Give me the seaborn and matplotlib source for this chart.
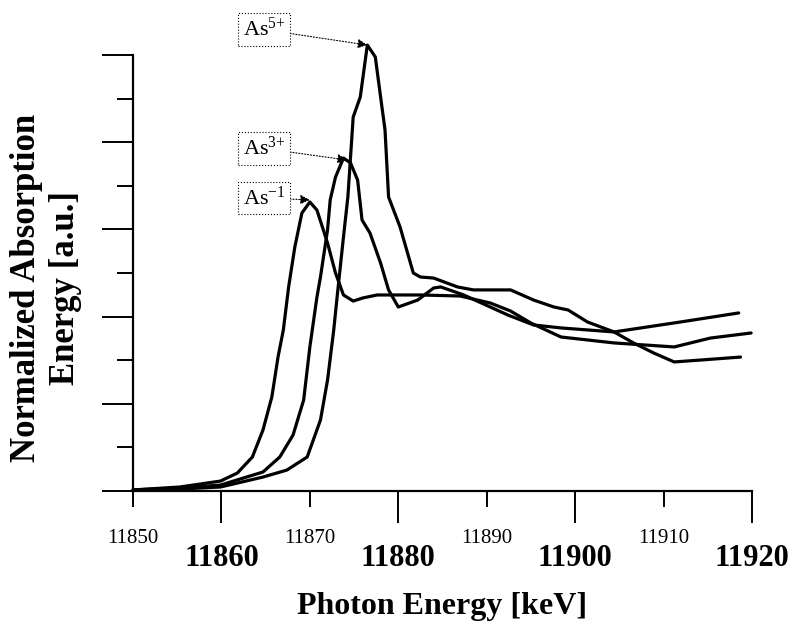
import numpy as np
import pandas as pd
import matplotlib
matplotlib.use("Agg")
import matplotlib.pyplot as plt
import seaborn as sns

# ---- data ----
as_m1_x = [11850.0, 11855.3, 11859.9, 11861.8, 11863.5, 11864.7, 11865.7, 11866.4, 11867.0, 11867.6,
           11868.3, 11869.1, 11870.0, 11870.8, 11872.0, 11872.9, 11873.8, 11874.9, 11876.0, 11877.6,
           11879.4, 11882.5, 11887.0, 11890.4, 11892.7, 11895.0, 11898.4, 11904.4, 11911.2, 11915.3, 11919.9]
as_m1_y = [0.006, 0.023, 0.057, 0.103, 0.195, 0.350, 0.539, 0.768, 0.923, 1.170,
           1.399, 1.594, 1.657, 1.611, 1.422, 1.250, 1.124, 1.089, 1.107, 1.124,
           1.124, 1.124, 1.118, 1.078, 1.032, 0.963, 0.883, 0.849, 0.826, 0.877, 0.906]

as_3_x = [11850.0, 11855.3, 11859.9, 11864.7, 11866.6, 11868.1, 11869.3, 11870.0, 11870.8, 11871.2,
          11872.0, 11872.3, 11872.9, 11873.8, 11874.6, 11875.4, 11875.9, 11876.8, 11878.0, 11878.9,
          11880.0, 11882.2, 11884.0, 11884.8, 11887.4, 11890.4, 11892.4, 11895.3, 11898.4, 11904.4,
          11911.9, 11918.5]
as_3_y = [0.006, 0.017, 0.034, 0.109, 0.195, 0.321, 0.522, 0.826, 1.112, 1.227,
          1.497, 1.669, 1.800, 1.909, 1.881, 1.783, 1.554, 1.479, 1.307, 1.153,
          1.055, 1.095, 1.164, 1.170, 1.124, 1.055, 1.009, 0.952, 0.935, 0.912,
          0.969, 1.021]

as_5_x = [11850.0, 11855.3, 11859.9, 11864.7, 11867.4, 11869.7, 11871.2, 11872.0, 11872.7, 11873.2,
          11873.8, 11874.3, 11874.9, 11875.7, 11876.5, 11877.4, 11878.0, 11878.5, 11878.9, 11880.2,
          11881.7, 11882.5, 11884.0, 11886.7, 11888.5, 11892.7, 11895.3, 11897.6, 11899.2, 11901.4,
          11904.4, 11906.6, 11908.9, 11911.2, 11914.2, 11918.7]
as_5_y = [0.006, 0.011, 0.023, 0.080, 0.120, 0.195, 0.407, 0.636, 0.923, 1.170,
          1.456, 1.686, 2.144, 2.259, 2.557, 2.489, 2.259, 2.070, 1.686, 1.514,
          1.250, 1.227, 1.221, 1.170, 1.153, 1.153, 1.095, 1.055, 1.038, 0.969,
          0.912, 0.849, 0.791, 0.740, 0.751, 0.768]

series_names = ["As-1", "As3+", "As5+"]
annot_labels = ["As$^{-1}$", "As$^{3{+}}$", "As$^{5{+}}$"]
annot_tips = [(11870.0, 1.669), (11874.2, 1.898), (11876.5, 2.557)]
annot_text_pos = [(11864.8, 1.680), (11864.8, 1.964), (11864.8, 2.646)]

major_x_ticks = [11860, 11880, 11900, 11920]
minor_x_ticks = [11850, 11870, 11890, 11910]
x_label = "Photon Energy [keV]"
y_label = "Normalized Absorption\nEnergy [a.u.]"

# ---- build long table ----
frames = []
for name, xs, ys in zip(series_names, [as_m1_x, as_3_x, as_5_x], [as_m1_y, as_3_y, as_5_y]):
    frames.append(pd.DataFrame({"energy": xs, "absorption": ys, "species": name}))
df = pd.concat(frames, ignore_index=True)

sns.set_theme(style="white")
plt.rcParams["font.family"] = ["Liberation Serif", "DejaVu Serif"]
plt.rcParams["mathtext.fontset"] = "custom"
plt.rcParams["mathtext.rm"] = "Liberation Serif"
plt.rcParams["mathtext.default"] = "regular"
plt.rcParams["text.color"] = "black"
plt.rcParams["axes.labelcolor"] = "black"
plt.rcParams["xtick.color"] = "black"
plt.rcParams["ytick.color"] = "black"

fig = plt.figure(figsize=(7.93, 6.27), dpi=100)
ax = fig.add_axes([133 / 793, 1 - 491 / 627, (752 - 133) / 793, (491 - 55) / 627])

sns.lineplot(data=df, x="energy", y="absorption", hue="species", sort=False, estimator=None,
             palette={n: "black" for n in series_names}, linewidth=2.3, legend=False, ax=ax)
for ln in ax.lines:
    ln.set_clip_on(False)

ax.set_xlim(11850, 11920)
ax.set_ylim(0, 2.5)
ax.set_ylabel("")

for s in ["top", "right"]:
    ax.spines[s].set_visible(False)
for s in ["left", "bottom"]:
    ax.spines[s].set_linewidth(1.6)
    ax.spines[s].set_color("black")

ax.set_xticks(major_x_ticks, [str(t) for t in major_x_ticks], fontsize=22, fontweight="bold",
              color="black")
ax.set_xticks(minor_x_ticks, [str(t) for t in minor_x_ticks], minor=True, fontsize=15,
              color="black")
ax.tick_params(axis="x", which="both", bottom=True, top=False)
ax.tick_params(axis="x", which="major", direction="out", length=23, width=1.4, pad=15, colors="black")
ax.tick_params(axis="x", which="minor", direction="out", length=11.5, width=1.4, pad=16, colors="black")

ax.set_yticks(np.arange(0, 2.51, 0.5))
ax.set_yticks(np.arange(0.25, 2.5, 0.5), minor=True)
ax.set_yticklabels([])
ax.tick_params(axis="y", which="both", left=True, right=False, labelleft=False)
ax.tick_params(axis="y", which="major", direction="out", length=22, width=1.4, colors="black")
ax.tick_params(axis="y", which="minor", direction="out", length=11.5, width=1.4, colors="black")

ax.set_xlabel(x_label, fontsize=23, fontweight="bold", labelpad=14, color="black")
fig.text(0.058, 1 - 288 / 627, y_label, rotation=90, fontsize=25, fontweight="bold",
         ha="center", va="center", linespacing=1.25, color="black")

for lab, tip, pos in zip(annot_labels, annot_tips, annot_text_pos):
    ax.annotate(lab, xy=tip, xytext=pos, fontsize=16, ha="center", va="center",
                annotation_clip=False, color="black",
                bbox=dict(boxstyle="square,pad=0.2", fc="white", ec="black", ls=":", lw=0.8),
                arrowprops=dict(arrowstyle="-|>", ls=":", lw=0.8, color="black",
                                mutation_scale=14, shrinkA=0, shrinkB=0))

fig.savefig("out.png", dpi=100)
